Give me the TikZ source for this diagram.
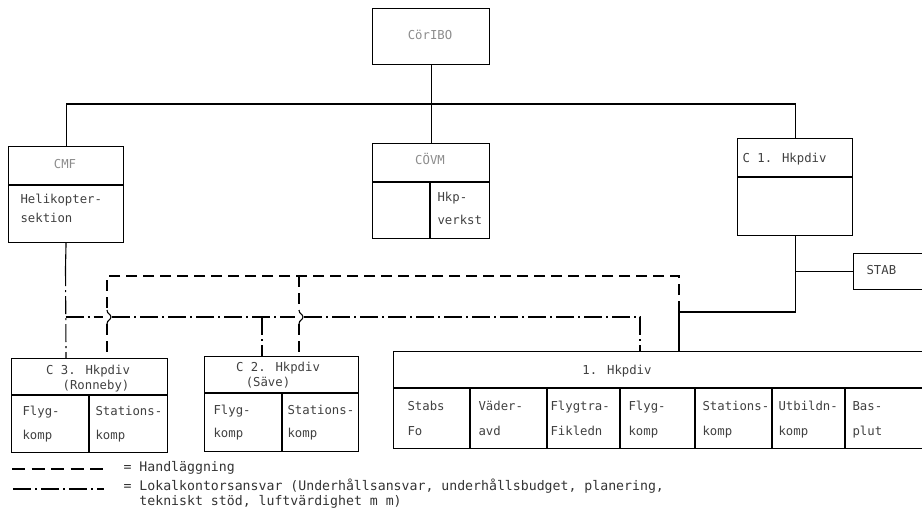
\documentclass[tikz,border=0pt]{standalone}
\usepackage{fontspec}
\newfontfamily\boxfont{DejaVu Sans Mono}
\begin{document}
\begin{tikzpicture}[x=1pt,y=-1pt,line width=1.1pt,
  box/.style={draw,rectangle,inner sep=0pt,anchor=north west},
  lbl/.style={font=\boxfont\fontsize{12.3}{14}\selectfont,text=black!75,inner sep=0pt,anchor=mid west},
  clbl/.style={font=\boxfont\fontsize{12.3}{14}\selectfont,text=black!75,inner sep=0pt,anchor=mid},
  glbl/.style={font=\boxfont\fontsize{12.3}{14}\selectfont,text=black!45,inner sep=0pt,anchor=mid},
  leg/.style={font=\boxfont\fontsize{13.2}{14}\selectfont,text=black!80,inner sep=0pt,anchor=mid west},
  hand/.style={dash pattern=on 11pt off 6pt},
  lok/.style={dash pattern=on 18pt off 4pt on 2pt off 4pt}]
\useasboundingbox (0,0) rectangle (922,517);
\clip (0,0) rectangle (922,517);
% boxes
\node[box,minimum width=117pt,minimum height=56pt] (top) at (372,8) {};
\node[box,minimum width=115pt,minimum height=96pt] (cmf) at (8,146) {};
\node[box,minimum width=117pt,minimum height=95pt] (covm) at (372,143) {};
\node[box,minimum width=115pt,minimum height=97pt] (c1) at (737,138) {};
\node[box,minimum width=80pt,minimum height=36pt] (stab) at (853,253) {};
\node[box,minimum width=156pt,minimum height=94pt] (c3) at (11,358) {};
\node[box,minimum width=154pt,minimum height=95pt] (c2) at (204,356) {};
\node[box,minimum width=545pt,minimum height=97pt] (h1) at (393,351) {};
% dividers
\draw (8,185) -- (123,185);
\draw (372,182) -- (489,182) (430,182) -- (430,238);
\draw (737,177) -- (852,177);
\draw (11,395) -- (167,395) (89,395) -- (89,452);
\draw (204,393) -- (358,393) (282,393) -- (282,451);
\draw (393,388) -- (938,388);
\foreach \xx in {470,547,620,695,772,845} \draw (\xx,388) -- (\xx,448);
% texts
\node[glbl] (tTop) at (430,37) {CörIBO};
\node[glbl] (tCmf) at (65,166) {CMF};
\node[lbl] (tHel1) at (20,201) {Helikopter-};
\node[lbl] (tHel2) at (20,220) {sektion};
\node[glbl] (tCovm) at (430,162) {CÖVM};
\node[lbl] (tHkp1) at (437,199) {Hkp-};
\node[lbl] (tHkp2) at (437,222) {verkst};
\node[lbl] (tC1) at (742,160) {C 1. Hkpdiv};
\node[lbl] (tStab) at (866,272) {STAB};
\node[clbl] (tC3a) at (88,372) {C 3. Hkpdiv};
\node[clbl] (tC3b) at (96,387) {(Ronneby)};
\node[lbl] (tC3c) at (22,413) {Flyg-};
\node[lbl] (tC3d) at (22,437) {komp};
\node[lbl] (tC3e) at (95,413) {Stations-};
\node[lbl] (tC3f) at (95,437) {komp};
\node[clbl] (tC2a) at (278,369) {C 2. Hkpdiv};
\node[clbl] (tC2b) at (268,384) {(Säve)};
\node[lbl] (tC2c) at (213,412) {Flyg-};
\node[lbl] (tC2d) at (213,435) {komp};
\node[lbl] (tC2e) at (287,412) {Stations-};
\node[lbl] (tC2f) at (287,435) {komp};
\node[clbl] (tH1) at (617,372) {1. Hkpdiv};
\node[lbl] (s1a) at (407,408) {Stabs};
\node[lbl] (s1b) at (407,433) {Fo};
\node[lbl] (s2a) at (478,408) {Väder-};
\node[lbl] (s2b) at (478,433) {avd};
\node[lbl] (s3a) at (550,408) {Flygtra-};
\node[lbl] (s3b) at (550,433) {Fikledn};
\node[lbl] (s4a) at (628,408) {Flyg-};
\node[lbl] (s4b) at (628,433) {komp};
\node[lbl] (s5a) at (702,408) {Stations-};
\node[lbl] (s5b) at (702,433) {komp};
\node[lbl] (s6a) at (778,408) {Utbildn-};
\node[lbl] (s6b) at (778,433) {komp};
\node[lbl] (s7a) at (852,408) {Bas-};
\node[lbl] (s7b) at (852,433) {plut};
% solid connectors
\coordinate (bus) at (0,104);
\draw (top.south) -- (covm.north);
\draw (cmf.north) -- (cmf.north |- bus) -- (c1.north |- bus) -- (c1.north);
\coordinate (hj) at (679,312);
\draw (c1.south) -- (c1.south |- hj) -- (hj) -- (hj |- h1.north);
\draw (c1.south |- stab.west) -- (stab.west);
% dashed (Handlaggning)
\coordinate (dA) at (107,276);
\coordinate (dB) at (299,276);
\draw[hand] (hj) -- (hj |- dA) -- (dA) -- (107,310);
\draw (107,310) .. controls (107,314) and (111,314) .. (111,317) .. controls (111,320) and (107,320) .. (107,324);
\draw[hand] (107,324) -- (dA |- c3.north);
\draw[hand] (dB) -- (299,310);
\draw (299,310) .. controls (299,314) and (303,314) .. (303,317) .. controls (303,320) and (299,320) .. (299,324);
\draw[hand] (299,324) -- (dB |- c2.north);
% dash-dot (Lokalkontorsansvar)
\coordinate (lA) at (65.5,317);
\coordinate (lB) at (262,317);
\coordinate (lC) at (640,317);
\draw (cmf.south) -- (65.5,268);
\draw[lok] (65.5,268) -- (cmf.south |- c3.north);
\draw[lok] (lA) -- (103,317);
\draw[lok] (112,317) -- (295,317);
\draw[lok] (304,317) -- (lC) -- (lC |- h1.north);
\draw[lok] (lB) -- (lB |- c2.north);
% legend
\coordinate (g1a) at (12,469); \coordinate (g1b) at (104,469);
\coordinate (g2a) at (13,489); \coordinate (g2b) at (104,489);
\draw[dash pattern=on 13pt off 6.5pt] (g1a) -- (g1b);
\draw[lok] (g2a) -- (g2b);
\node[leg] (leg1) at (123,469) {= Handläggning};
\node[leg] (leg2) at (123,488) {= Lokalkontorsansvar (Underhållsansvar, underhållsbudget, planering,};
\node[leg] (leg3) at (138.9,503) {tekniskt stöd, luftvärdighet m m)};
\end{tikzpicture}
\end{document}
